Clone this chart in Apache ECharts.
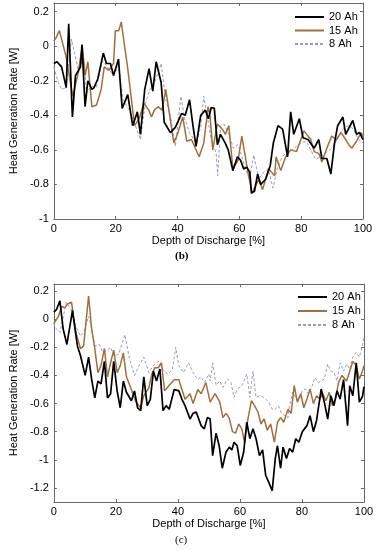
<!DOCTYPE html>
<html><head><meta charset="utf-8">
<script src="https://cdn.jsdelivr.net/npm/echarts@6/dist/echarts.min.js"></script>
<style>html,body{margin:0;padding:0;background:#fff}#c{width:377px;height:550px}</style>
</head><body><div id="c"></div>
<script>
// ---- data (x = depth of discharge %, y = heat generation rate W) ----
var seriesNames = ['20 Ah', '15 Ah', '8 Ah'];
var xTicks = [0, 20, 40, 60, 80, 100];
var yTicksB = [-1, -0.8, -0.6, -0.4, -0.2, 0, 0.2];
var yTicksC = [-1.2, -1, -0.8, -0.6, -0.4, -0.2, 0, 0.2];

var b20 = [[0,-0.10],[1,-0.09],[2.5,-0.12],[4,-0.24],[4.8,0.13],[6,-0.41],[7,-0.17],[8.6,-0.12],[9.1,0.01],[10.1,-0.35],[11,-0.20],[12.3,-0.25],[13,-0.24],[14.2,-0.19],[16,-0.04],[17,-0.10],[18.3,-0.10],[19.3,-0.17],[20.9,-0.075],[22.1,-0.36],[23.9,-0.28],[25.5,-0.46],[27,-0.38],[28,-0.51],[29.4,-0.25],[30.8,-0.13],[32,-0.26],[33.1,-0.09],[34.7,-0.21],[35.7,-0.44],[37.7,-0.50],[39.3,-0.47],[41.3,-0.39],[42.5,-0.40],[43.9,-0.31],[45,-0.46],[46,-0.58],[47.5,-0.40],[49,-0.37],[50,-0.42],[50.9,-0.355],[51.9,-0.36],[52.9,-0.57],[53.9,-0.51],[55.4,-0.56],[56.4,-0.60],[57.9,-0.72],[59.4,-0.64],[60.4,-0.66],[61.4,-0.71],[62.4,-0.70],[63.4,-0.73],[63.9,-0.85],[64.9,-0.84],[65.9,-0.74],[66.9,-0.80],[68.5,-0.77],[70,-0.69],[71,-0.56],[72.5,-0.46],[74,-0.48],[75.6,-0.64],[76.6,-0.38],[77.6,-0.51],[79.4,-0.42],[80.6,-0.53],[82.2,-0.54],[84.2,-0.59],[85.7,-0.54],[86.7,-0.65],[88.3,-0.65],[89.6,-0.74],[90.8,-0.56],[91.8,-0.46],[93.5,-0.41],[94.4,-0.51],[96.7,-0.43],[97.9,-0.51],[98.9,-0.50],[100,-0.54]];
var b15 = [[0,0.03],[0.6,0.045],[1.8,0.09],[4,-0.065],[6.1,-0.29],[7.7,-0.17],[9.2,0.0],[10.1,-0.17],[11,-0.09],[12.3,-0.35],[13.8,-0.34],[15.3,-0.25],[16.3,-0.12],[17.8,-0.14],[19.3,-0.10],[19.9,0.09],[21,0.09],[21.8,0.14],[23.9,-0.13],[26.1,-0.46],[27.6,-0.42],[29.1,-0.33],[30.7,-0.37],[31.6,-0.41],[32.5,-0.37],[33.7,-0.35],[35,-0.37],[36.2,-0.25],[38.8,-0.56],[40,-0.51],[41.7,-0.41],[43,-0.55],[44.5,-0.54],[47,-0.64],[48.5,-0.56],[49.9,-0.35],[50.5,-0.40],[51.4,-0.60],[52.9,-0.45],[54.5,-0.48],[55.5,-0.51],[56.6,-0.46],[57.9,-0.71],[59.6,-0.66],[60.8,-0.52],[62.7,-0.72],[64.1,-0.85],[66.3,-0.77],[67.5,-0.83],[69.5,-0.71],[71.4,-0.75],[71.9,-0.64],[73.4,-0.72],[75,-0.64],[76.6,-0.60],[78.5,-0.61],[80.1,-0.53],[80.9,-0.49],[83.1,-0.54],[84.2,-0.61],[85.7,-0.62],[86.7,-0.67],[88.3,-0.59],[89.9,-0.52],[91.4,-0.54],[92.9,-0.50],[94.4,-0.54],[95.4,-0.57],[96.4,-0.59],[97.9,-0.55],[99.4,-0.50],[100,-0.52]];
var b8 = [[0,-0.12],[1.4,-0.21],[2.5,-0.25],[4,-0.24],[5.7,0.04],[7.1,-0.075],[8.1,-0.153],[9.6,-0.056],[10.6,-0.27],[12.2,-0.23],[13.7,-0.24],[15.8,-0.085],[17.8,-0.133],[19.3,-0.172],[20.9,-0.114],[22.4,-0.31],[24.4,-0.37],[26,-0.44],[28,-0.54],[29.6,-0.33],[31.1,-0.25],[32.6,-0.21],[34.7,-0.10],[36.2,-0.31],[37.7,-0.40],[39.3,-0.58],[41.1,-0.29],[42.3,-0.42],[43.9,-0.50],[45.9,-0.56],[47.5,-0.47],[48.5,-0.29],[50.9,-0.54],[52.5,-0.62],[53,-0.75],[54,-0.46],[55,-0.45],[56.6,-0.51],[58.1,-0.59],[59.6,-0.57],[61.7,-0.69],[63.2,-0.77],[64.7,-0.63],[66.3,-0.77],[67.8,-0.73],[69.3,-0.71],[70.9,-0.82],[72.4,-0.70],[73.9,-0.64],[75.5,-0.61],[77,-0.60],[78.5,-0.58],[80.1,-0.56],[81.6,-0.55],[83.1,-0.60],[84.7,-0.655],[86.2,-0.64],[87.7,-0.62],[89.3,-0.60],[90.8,-0.57],[92.3,-0.51],[93.9,-0.47],[95.4,-0.46],[96.9,-0.48],[98.5,-0.54],[100,-0.56]];

var c20 = [[0,0.05],[0.9,0.07],[1.95,0.13],[3,-0.07],[4.2,-0.18],[6,0.06],[7.6,-0.19],[8.6,-0.26],[10.1,-0.40],[11.2,-0.27],[12.2,-0.43],[13.2,-0.56],[14.2,-0.44],[15.2,-0.46],[16.3,-0.30],[17.3,-0.56],[18.3,-0.53],[19.3,-0.30],[20.4,-0.51],[21.4,-0.63],[22.4,-0.44],[23.4,-0.52],[25,-0.58],[26,-0.51],[27,-0.63],[28,-0.65],[29,-0.41],[30.1,-0.615],[31.1,-0.57],[32.1,-0.37],[33.1,-0.44],[34.2,-0.355],[35.2,-0.65],[36.2,-0.615],[37.2,-0.64],[38.8,-0.50],[40.3,-0.51],[41.3,-0.57],[42.3,-0.615],[43.9,-0.71],[44.9,-0.67],[45.9,-0.66],[47.5,-0.757],[48.5,-0.78],[49.5,-0.70],[50.4,-0.71],[51.2,-0.97],[52.3,-0.81],[53.3,-0.90],[54.3,-1.06],[55.5,-0.945],[56.6,-0.91],[57.4,-0.93],[58.1,-0.875],[59.1,-0.90],[60.1,-1.04],[61.2,-0.945],[62.2,-0.733],[63.2,-0.85],[64.2,-0.78],[65.2,-0.85],[66.3,-0.97],[67.3,-0.93],[68.3,-1.11],[69.3,-1.16],[70.4,-1.22],[71.4,-0.99],[72.1,-0.90],[73.1,-1.06],[73.9,-0.91],[75,-0.99],[76,-0.92],[77,-0.945],[78,-0.85],[79,-0.875],[80.1,-0.80],[81.6,-0.757],[82.6,-0.686],[83.7,-0.80],[84.7,-0.72],[86.2,-0.497],[87.2,-0.59],[88.3,-0.71],[89.3,-0.544],[90.3,-0.615],[91.3,-0.51],[92.3,-0.568],[93.4,-0.43],[94.7,-0.757],[95.4,-0.473],[96.4,-0.544],[97.5,-0.31],[98.5,-0.59],[99.5,-0.55],[100,-0.48]];
var c15 = [[0,-0.03],[1.5,0.02],[2.5,0.09],[3.5,0.08],[4.5,0.11],[5.7,0.12],[7.1,-0.095],[8.6,-0.21],[9.6,-0.19],[11.2,0.165],[12.2,-0.07],[13.2,-0.21],[14.2,-0.38],[15.2,-0.33],[16.3,-0.21],[17.3,-0.41],[18.3,-0.31],[19.3,-0.22],[20.4,-0.38],[21.4,-0.33],[22.4,-0.24],[23.4,-0.41],[25,-0.50],[26.5,-0.59],[28,-0.63],[29,-0.544],[30.6,-0.49],[31.6,-0.39],[32.6,-0.345],[33.7,-0.345],[34.7,-0.31],[35.7,-0.51],[37.2,-0.47],[38.8,-0.43],[40.3,-0.43],[41.3,-0.50],[42.3,-0.57],[43.9,-0.53],[44.9,-0.60],[46.4,-0.50],[47.5,-0.53],[49,-0.45],[50.4,-0.59],[52,-0.53],[53.5,-0.59],[54.5,-0.70],[55.5,-0.67],[56.5,-0.70],[57.6,-0.80],[58.6,-0.81],[59.6,-0.745],[60.6,-0.78],[61.5,-0.875],[62.5,-0.72],[63.7,-0.58],[64.7,-0.615],[65.8,-0.66],[66.8,-0.745],[67.8,-0.71],[68.8,-0.79],[69.9,-0.745],[71.1,-0.875],[72.1,-0.733],[73.1,-0.70],[74.1,-0.733],[75.5,-0.64],[76.5,-0.67],[77.5,-0.473],[78.5,-0.59],[79.6,-0.53],[80.6,-0.63],[81.6,-0.568],[82.6,-0.497],[83.7,-0.60],[84.7,-0.544],[85.7,-0.568],[86.7,-0.53],[87.7,-0.58],[88.8,-0.52],[89.8,-0.615],[90.8,-0.568],[91.8,-0.45],[92.9,-0.40],[94.4,-0.44],[95.4,-0.37],[96.4,-0.30],[97.5,-0.33],[98.5,-0.426],[99.5,-0.37],[100,-0.33]];
var c8 = [[0,-0.03],[0.4,-0.06],[2,-0.095],[4,0.12],[5.5,0.07],[7.1,-0.05],[8.6,-0.12],[9.6,-0.095],[11.2,0.02],[12.2,-0.07],[13.2,-0.19],[14.7,-0.18],[15.8,-0.236],[17.3,-0.22],[18.3,-0.20],[19.3,-0.26],[20.9,-0.25],[21.9,-0.18],[22.9,-0.11],[24.4,-0.284],[26,-0.40],[27.5,-0.33],[29,-0.27],[30.6,-0.38],[32.1,-0.33],[33.7,-0.30],[35.2,-0.36],[36.7,-0.39],[38.2,-0.36],[39.3,-0.20],[40.3,-0.33],[41.8,-0.38],[43.4,-0.31],[44.9,-0.38],[46.4,-0.43],[47.5,-0.41],[48.5,-0.45],[50,-0.39],[50.4,-0.44],[51.2,-0.31],[52.3,-0.47],[53.5,-0.44],[54.5,-0.485],[56,-0.426],[57.1,-0.45],[58.1,-0.556],[59.1,-0.497],[60.6,-0.473],[62.2,-0.39],[63.2,-0.556],[64.2,-0.37],[65.2,-0.556],[66.3,-0.544],[67.3,-0.55],[68.3,-0.568],[69.3,-0.59],[70.4,-0.64],[71.4,-0.64],[72.4,-0.615],[73.4,-0.67],[74.4,-0.686],[75.5,-0.70],[76,-0.615],[77,-0.52],[78,-0.556],[79,-0.58],[80.1,-0.51],[81.1,-0.497],[82.1,-0.53],[83.1,-0.485],[84.2,-0.414],[85.2,-0.45],[86.2,-0.44],[87.2,-0.426],[88.3,-0.32],[89.3,-0.37],[90.3,-0.378],[91.3,-0.44],[92.3,-0.31],[93.4,-0.37],[94.4,-0.32],[95.4,-0.355],[96.4,-0.27],[97.5,-0.236],[98.5,-0.27],[99.5,-0.189],[100,-0.13]];

// ---- styles ----
var FONT = '"Liberation Sans", Arial, sans-serif';
var AX = '#6a6a6a';
var colors = {'20 Ah': '#000000', '15 Ah': '#a0703c', '8 Ah': '#9c9cba'};
var widths = {'20 Ah': 1.7, '15 Ah': 1.5, '8 Ah': 1};
var types = {'20 Ah': 'solid', '15 Ah': 'solid', '8 Ah': [3, 2]};

function xAx(gi, pos) {
  var bottom = pos === 'bottom';
  return {
    type: 'value', gridIndex: gi, position: pos, min: 0, max: 100, interval: 20,
    axisLine: {show: true, onZero: false, lineStyle: {color: AX, width: 1}},
    axisTick: {show: true, inside: true, length: 3, lineStyle: {color: AX}},
    axisLabel: {show: bottom, color: '#000', fontSize: 11, fontFamily: FONT, margin: 4},
    splitLine: {show: false},
    name: bottom ? 'Depth of Discharge [%]' : '',
    nameLocation: 'middle', nameGap: 16,
    nameTextStyle: {color: '#000', fontSize: 11, fontFamily: FONT}
  };
}
function yAx(gi, pos, mn, mx, ticks) {
  var left = pos === 'left';
  return {
    type: 'value', gridIndex: gi, position: pos, min: mn, max: mx,
    axisLine: {show: true, onZero: false, lineStyle: {color: AX, width: 1}},
    axisTick: {show: true, inside: true, length: 3, lineStyle: {color: AX}, customValues: ticks},
    axisLabel: {show: left, color: '#000', fontSize: 11, fontFamily: FONT, margin: 5, customValues: ticks},
    splitLine: {show: false},
    name: left ? 'Heat Generation Rate [W]' : '',
    nameLocation: 'middle', nameGap: 33,
    nameTextStyle: {color: '#000', fontSize: 11, fontFamily: FONT}
  };
}
function mk(name, data, gi) {
  return {
    type: 'line', name: name, data: data, xAxisIndex: gi * 2, yAxisIndex: gi * 2,
    showSymbol: false, symbol: 'none', animation: false,
    z: name === '20 Ah' ? 4 : (name === '15 Ah' ? 3 : 2),
    lineStyle: {color: colors[name], width: widths[name], type: types[name]},
    itemStyle: {color: colors[name]}
  };
}
function legend(left, top, gap) {
  return {
    data: seriesNames, orient: 'vertical', left: left, top: top, padding: 0,
    itemWidth: 29, itemHeight: 8, itemGap: gap, selectedMode: false,
    itemStyle: {opacity: 0},
    textStyle: {color: '#000', fontSize: 11, fontFamily: FONT}
  };
}

var chart = echarts.init(document.getElementById('c'), null, {renderer: 'canvas'});
chart.setOption({
  animation: false,
  backgroundColor: '#fff',
  grid: [
    {left: 37, top: 3, width: 326, height: 216},
    {left: 37, top: 284, width: 327, height: 218}
  ],
  xAxis: [xAx(0, 'bottom'), xAx(0, 'top'), xAx(1, 'bottom'), xAx(1, 'top')],
  yAxis: [yAx(0, 'left', -1, 0.25, yTicksB), yAx(0, 'right', -1, 0.25, yTicksB),
          yAx(1, 'left', -1.3, 0.25, yTicksC), yAx(1, 'right', -1.3, 0.25, yTicksC)],
  legend: [legend(294, 11.5, 2.5), legend(297, 291.5, 3)],
  series: [mk('8 Ah', b8, 0), mk('15 Ah', b15, 0), mk('20 Ah', b20, 0),
           mk('8 Ah', c8, 1), mk('15 Ah', c15, 1), mk('20 Ah', c20, 1)],
  graphic: [
    {type: 'text', left: 175, top: 251, style: {text: '(b)', font: 'bold 11px "Liberation Serif", serif', fill: '#000'}},
    {type: 'text', left: 175, top: 535, style: {text: '(c)', font: '11px "Liberation Serif", serif', fill: '#000'}}
  ]
});
</script></body></html>
